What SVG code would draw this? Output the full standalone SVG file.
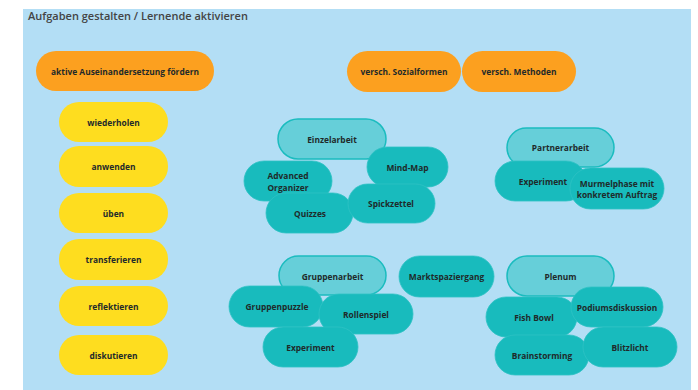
<svg xmlns="http://www.w3.org/2000/svg" width="698" height="390" viewBox="0 0 698 390">
<style>
.t{font-family:"Open Sans","Liberation Sans",sans-serif;font-size:8.4px;font-weight:700;fill:#1f2a2a;text-anchor:middle;dominant-baseline:central}
.o{fill:#fca01f}
.y{fill:#fedd1f}
.h{fill:#66cfd9;stroke:#1bbcbf;stroke-width:1.5}
.c{fill:#18bbbd;stroke:#2ec2c4;stroke-width:0.8}
</style>
<rect width="698" height="390" fill="#ffffff"/>
<rect x="23" y="9" width="668" height="381" fill="#b3def5"/>
<text x="28" y="20" font-family="'Open Sans','Liberation Sans',sans-serif" font-size="11" font-weight="600" fill="#444">Aufgaben gestalten / Lernende aktivieren</text>
<g id="connectors"/>
<g id="n-aktive"><rect class="o" x="36" y="51" width="178" height="40" rx="20"/><text class="t" x="125" y="71">aktive Auseinandersetzung fördern</text></g>
<g id="n-sozial"><rect class="o" x="347" y="51" width="114" height="41" rx="20.5"/><text class="t" x="404" y="71.5">versch. Sozialformen</text></g>
<g id="n-methoden"><rect class="o" x="462" y="51" width="114" height="41" rx="20.5"/><text class="t" x="519" y="71.5">versch. Methoden</text></g>
<g id="n-wiederholen"><rect class="y" x="59" y="102" width="109" height="40" rx="20"/><text class="t" x="113.5" y="122">wiederholen</text></g>
<g id="n-anwenden"><rect class="y" x="59" y="146" width="109" height="41" rx="20"/><text class="t" x="113.5" y="166.5">anwenden</text></g>
<g id="n-ueben"><rect class="y" x="59" y="193" width="109" height="40" rx="20"/><text class="t" x="113.5" y="213">üben</text></g>
<g id="n-transferieren"><rect class="y" x="59" y="239" width="109" height="41" rx="20"/><text class="t" x="113.5" y="259.5">transferieren</text></g>
<g id="n-reflektieren"><rect class="y" x="59" y="286" width="109" height="40" rx="20"/><text class="t" x="113.5" y="306">reflektieren</text></g>
<g id="n-diskutieren"><rect class="y" x="59" y="335" width="109" height="40" rx="20"/><text class="t" x="113.5" y="355">diskutieren</text></g>
<g id="n-einzelarbeit"><rect class="h" x="278" y="119" width="108" height="40" rx="20"/><text class="t" x="332" y="139">Einzelarbeit</text></g>
<g id="n-mindmap"><rect class="c" x="367" y="147" width="81" height="40" rx="20"/><text class="t" x="407.5" y="167">Mind-Map</text></g>
<g id="n-advanced"><rect class="c" x="244" y="161" width="88" height="40" rx="20"/><text class="t" x="288" y="175.5">Advanced</text><text class="t" x="288" y="187">Organizer</text></g>
<g id="n-quizzes"><rect class="c" x="266" y="193" width="87" height="40" rx="20"/><text class="t" x="310" y="213">Quizzes</text></g>
<g id="n-spickzettel"><rect class="c" x="348" y="184" width="87" height="39" rx="19.5"/><text class="t" x="391" y="203.5">Spickzettel</text></g>
<g id="n-partnerarbeit"><rect class="h" x="507" y="128" width="107" height="39" rx="19.5"/><text class="t" x="560.5" y="147.5">Partnerarbeit</text></g>
<g id="n-experiment1"><rect class="c" x="495" y="161" width="91" height="40" rx="20"/><text class="t" x="543" y="181">Experiment</text></g>
<g id="n-murmelphase"><rect class="c" x="570" y="168" width="94" height="41" rx="20.5"/><text class="t" x="617" y="183">Murmelphase mit</text><text class="t" x="617" y="194.5">konkretem Auftrag</text></g>
<g id="n-gruppenarbeit"><rect class="h" x="279" y="256" width="107" height="39" rx="19.5"/><text class="t" x="332.5" y="276">Gruppenarbeit</text></g>
<g id="n-markt"><rect class="c" x="399" y="256" width="95" height="41" rx="20.5"/><text class="t" x="446.5" y="276.5">Marktspaziergang</text></g>
<g id="n-gruppenpuzzle"><rect class="c" x="229" y="286" width="94" height="41" rx="20.5"/><text class="t" x="277" y="306">Gruppenpuzzle</text></g>
<g id="n-rollenspiel"><rect class="c" x="319" y="294" width="94" height="40" rx="20"/><text class="t" x="366" y="314">Rollenspiel</text></g>
<g id="n-experiment2"><rect class="c" x="263" y="327" width="95" height="40" rx="20"/><text class="t" x="310.5" y="347">Experiment</text></g>
<g id="n-plenum"><rect class="h" x="507" y="256" width="107" height="40" rx="20"/><text class="t" x="560.5" y="276">Plenum</text></g>
<g id="n-fishbowl"><rect class="c" x="486" y="297" width="91" height="40" rx="20"/><text class="t" x="534" y="317">Fish Bowl</text></g>
<g id="n-podium"><rect class="c" x="571" y="287" width="92" height="40" rx="20"/><text class="t" x="617" y="307.5">Podiumsdiskussion</text></g>
<g id="n-brainstorming"><rect class="c" x="495" y="335" width="94" height="40" rx="20"/><text class="t" x="542" y="355">Brainstorming</text></g>
<g id="n-blitzlicht"><rect class="c" x="583" y="327" width="94" height="40" rx="20"/><text class="t" x="630" y="347">Blitzlicht</text></g>
</svg>
